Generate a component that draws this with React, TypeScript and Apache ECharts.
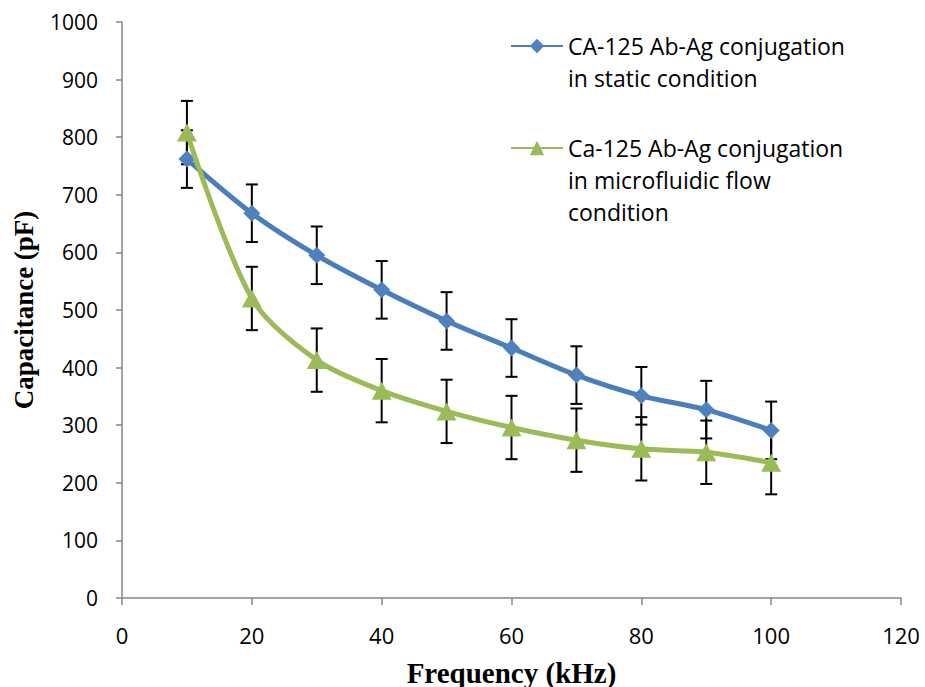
import React, { useEffect, useRef } from "react";
import * as echarts from "echarts";

const frequencies = [10, 20, 30, 40, 50, 60, 70, 80, 90, 100];
const staticValues = [762, 668, 595, 535, 481, 434, 387, 351, 327, 291];
const staticErrors = [50, 50, 50, 50, 50, 50, 50, 50, 50, 50];
const flowValues = [808, 520, 413, 360, 324, 296, 274, 259, 253, 235];
const flowErrors = [55, 55, 55, 55, 55, 55, 55, 55, 55, 55];

const staticName = "CA-125 Ab-Ag conjugation\nin static condition";
const flowName = "Ca-125 Ab-Ag conjugation\nin microfluidic flow\ncondition";

const BLUE = "#4A7EBB";
const GREEN = "#9BBB59";

function errorRenderItem(params: any, api: any) {
  const x = api.value(0);
  const lo = api.value(1);
  const hi = api.value(2);
  const pHi = api.coord([x, hi]);
  const pLo = api.coord([x, lo]);
  const w = 6;
  const style = { stroke: "#000", lineWidth: 2 };
  return {
    type: "group",
    children: [
      { type: "line", shape: { x1: pHi[0], y1: pHi[1], x2: pLo[0], y2: pLo[1] }, style },
      { type: "line", shape: { x1: pHi[0] - w, y1: pHi[1], x2: pHi[0] + w, y2: pHi[1] }, style },
      { type: "line", shape: { x1: pLo[0] - w, y1: pLo[1], x2: pLo[0] + w, y2: pLo[1] }, style },
    ],
  };
}

// put the first text line level with the legend icon by padding blank lines above
function alignFirstLine(name: string) {
  const lines = name.split("\n");
  return "\n".repeat(lines.length - 1) + name;
}

export default function App() {
  const ref = useRef<HTMLDivElement>(null);
  useEffect(() => {
    if (!ref.current) return;
    const chart = echarts.init(ref.current, null, { renderer: "svg" });
    const staticData = frequencies.map((f, i) => [f, staticValues[i]]);
    const flowData = frequencies.map((f, i) => [f, flowValues[i]]);
    const staticErr = frequencies.map((f, i) => [f, staticValues[i] - staticErrors[i], staticValues[i] + staticErrors[i]]);
    const flowErr = frequencies.map((f, i) => [f, flowValues[i] - flowErrors[i], flowValues[i] + flowErrors[i]]);
    const legendText = {
      fontFamily: "'Open Sans', sans-serif",
      fontSize: 23,
      color: "#000",
      lineHeight: 32,
    };
    const legendBase = {
      left: 510,
      orient: "vertical",
      padding: 0,
      itemWidth: 52,
      itemHeight: 18,
      itemGap: 0,
      textStyle: legendText,
      formatter: alignFirstLine,
    };
    chart.setOption({
      animation: false,
      backgroundColor: "#fff",
      grid: {
        left: 122,
        right: 24,
        top: 22,
        bottom: 89,
        containLabel: false,
        outerBoundsMode: "none",
      },
      legend: [
        { ...legendBase, data: [staticName], top: -2 },
        { ...legendBase, data: [flowName], top: 68 },
      ],
      xAxis: {
        type: "value",
        min: 0,
        max: 120,
        interval: 20,
        name: "Frequency (kHz)",
        nameLocation: "middle",
        nameGap: 60,
        nameTextStyle: {
          fontFamily: "'Liberation Serif', serif",
          fontWeight: "bold",
          fontSize: 29,
          color: "#000",
        },
        axisLine: { show: true, lineStyle: { color: "#868686", width: 1.5 } },
        axisTick: { show: true, inside: false, length: 7, lineStyle: { color: "#868686", width: 1.5 } },
        axisLabel: {
          margin: 26,
          fontFamily: "'Open Sans', sans-serif",
          fontSize: 22,
          color: "#000",
        },
        splitLine: { show: false },
      },
      yAxis: {
        type: "value",
        min: 0,
        max: 1000,
        interval: 100,
        name: "Capacitance (pF)",
        nameLocation: "middle",
        nameGap: 85,
        nameTextStyle: {
          fontFamily: "'Liberation Serif', serif",
          fontWeight: "bold",
          fontSize: 27,
          color: "#000",
        },
        axisLine: { show: true, lineStyle: { color: "#868686", width: 1.5 } },
        axisTick: { show: true, inside: false, length: 6, lineStyle: { color: "#868686", width: 1.5 } },
        axisLabel: {
          margin: 24,
          fontFamily: "'Open Sans', sans-serif",
          fontSize: 21,
          color: "#000",
          formatter: (v: number) => String(v),
        },
        splitLine: { show: false },
      },
      series: [
        {
          type: "custom",
          name: "static-error",
          renderItem: errorRenderItem,
          data: staticErr,
          encode: { x: 0, y: [1, 2] },
          z: 1,
          silent: true,
        },
        {
          type: "custom",
          name: "flow-error",
          renderItem: errorRenderItem,
          data: flowErr,
          encode: { x: 0, y: [1, 2] },
          z: 1,
          silent: true,
        },
        {
          type: "line",
          name: staticName,
          data: staticData,
          smooth: 0.3,
          symbol: "diamond",
          symbolSize: 17,
          lineStyle: { color: BLUE, width: 5 },
          itemStyle: { color: "#4F81BD" },
          z: 3,
        },
        {
          type: "line",
          name: flowName,
          data: flowData,
          smooth: 0.3,
          symbol: "triangle",
          symbolSize: [20, 18],
          lineStyle: { color: GREEN, width: 5 },
          itemStyle: { color: GREEN },
          z: 4,
        },
      ],
    });
    return () => chart.dispose();
  }, []);
  return (
    <div
      ref={ref}
      style={{ position: "absolute", left: 0, top: 0, width: 925, height: 687, overflow: "hidden" }}
    />
  );
}
